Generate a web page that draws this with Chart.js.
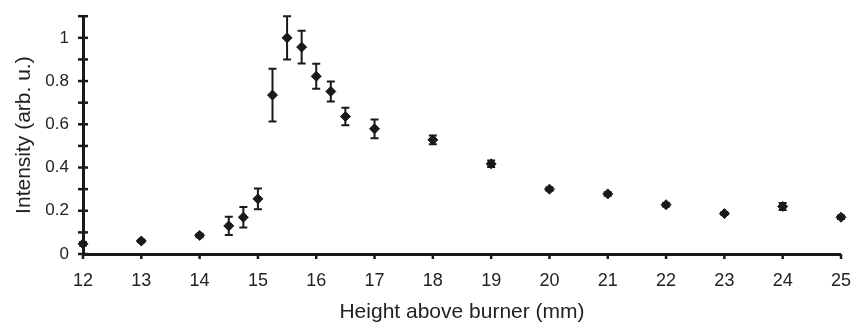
<!DOCTYPE html>
<html>
<head>
<meta charset="utf-8">
<script src="https://cdn.jsdelivr.net/npm/chart.js@4/dist/chart.umd.min.js"></script>
<style>
  html, body { margin: 0; padding: 0; background: #fff; }
  #wrap { width: 859px; height: 323px; }
</style>
</head>
<body>
<div id="wrap"><canvas id="chart" width="859" height="323"></canvas></div>
<script>
// height above burner (mm)
const heights = [12, 13, 14, 14.5, 14.75, 15, 15.25, 15.5, 15.75, 16, 16.25, 16.5, 17, 18, 19, 20, 21, 22, 23, 24, 25];
// normalised intensity
const intensity = [0.047, 0.06, 0.086, 0.13, 0.17, 0.255, 0.735, 1.0, 0.957, 0.822, 0.752, 0.636, 0.579, 0.528, 0.417, 0.3, 0.278, 0.228, 0.187, 0.22, 0.17];
// error (+/-)
const errors = [0.008, 0.006, 0.008, 0.042, 0.047, 0.048, 0.122, 0.1, 0.076, 0.058, 0.046, 0.04, 0.043, 0.02, 0.015, 0.008, 0.008, 0.008, 0.006, 0.016, 0.008];

const xTicks = [12, 13, 14, 15, 16, 17, 18, 19, 20, 21, 22, 23, 24, 25];

const points = heights.map((h, i) => ({ x: h, y: intensity[i] }));

// draw vertical error bars with caps using the chart scales
const errorBars = {
    id: 'errorBars',
    afterDatasetsDraw(chart) {
        const { ctx, scales } = chart;
        ctx.save();
        ctx.strokeStyle = '#1a1a1a';
        ctx.lineWidth = 2;
        heights.forEach((h, i) => {
            const x = scales.x.getPixelForValue(h);
            const yTop = scales.y.getPixelForValue(intensity[i] + errors[i]);
            const yBot = scales.y.getPixelForValue(intensity[i] - errors[i]);
            ctx.beginPath();
            ctx.moveTo(x, yTop);
            ctx.lineTo(x, yBot);
            ctx.moveTo(x - 4, yTop);
            ctx.lineTo(x + 4, yTop);
            ctx.moveTo(x - 4, yBot);
            ctx.lineTo(x + 4, yBot);
            ctx.stroke();
        });
        ctx.restore();
    }
};

// small tick marks crossing the axes
const axisTicks = {
    id: 'axisTicks',
    afterDraw(chart) {
        const { ctx, scales, chartArea } = chart;
        ctx.save();
        ctx.strokeStyle = '#1a1a1a';
        ctx.lineWidth = 2.5;
        xTicks.forEach(v => {
            const x = scales.x.getPixelForValue(v);
            ctx.beginPath();
            ctx.moveTo(x, chartArea.bottom);
            ctx.lineTo(x, chartArea.bottom + 5);
            ctx.stroke();
        });
        for (let k = 0; k <= 11; k++) {
            const y = scales.y.getPixelForValue(k / 10);
            ctx.beginPath();
            ctx.moveTo(chartArea.left - 5, y);
            ctx.lineTo(chartArea.left + 5, y);
            ctx.stroke();
        }
        ctx.restore();
    }
};

new Chart('chart', {
    type: 'scatter',
    data: {
        datasets: [{
            data: points,
            pointStyle: 'rectRot',
            pointRadius: 5,
            pointHoverRadius: 5,
            backgroundColor: '#1a1a1a',
            borderColor: '#1a1a1a',
            borderWidth: 1,
            clip: false
        }]
    },
    options: {
        responsive: false,
        animation: false,
        layout: { padding: { top: 14, right: 11, left: 0, bottom: 0 } },
        plugins: { legend: { display: false }, tooltip: { enabled: false } },
        scales: {
            x: {
                type: 'linear',
                min: 12,
                max: 25,
                afterBuildTicks: s => { s.ticks = xTicks.map(v => ({ value: v })); },
                afterFit: s => { s.height = 69; },
                border: { color: '#1a1a1a', width: 3 },
                grid: { display: false },
                ticks: {
                    color: '#222',
                    font: { family: 'Liberation Sans', size: 18 },
                    padding: 8
                },
                title: {
                    display: true,
                    text: 'Height above burner (mm)',
                    color: '#222',
                    font: { family: 'Liberation Sans', size: 21, lineHeight: 1 },
                    padding: { top: 0, bottom: 0 }
                }
            },
            y: {
                min: 0,
                max: 1.1,
                afterBuildTicks: s => { s.ticks = [0, 0.2, 0.4, 0.6, 0.8, 1].map(v => ({ value: v })); },
                afterFit: s => { s.width = 83; },
                border: { color: '#1a1a1a', width: 3 },
                grid: { display: false },
                ticks: {
                    color: '#222',
                    font: { family: 'Liberation Sans', size: 17 },
                    padding: 6,
                    callback: v => String(Math.round(v * 10) / 10)
                },
                title: {
                    display: true,
                    text: 'Intensity (arb. u.)',
                    color: '#222',
                    font: { family: 'Liberation Sans', size: 21 },
                    padding: { top: 12, bottom: 0 }
                }
            }
        }
    },
    plugins: [errorBars, axisTicks]
});
</script>
</body>
</html>
